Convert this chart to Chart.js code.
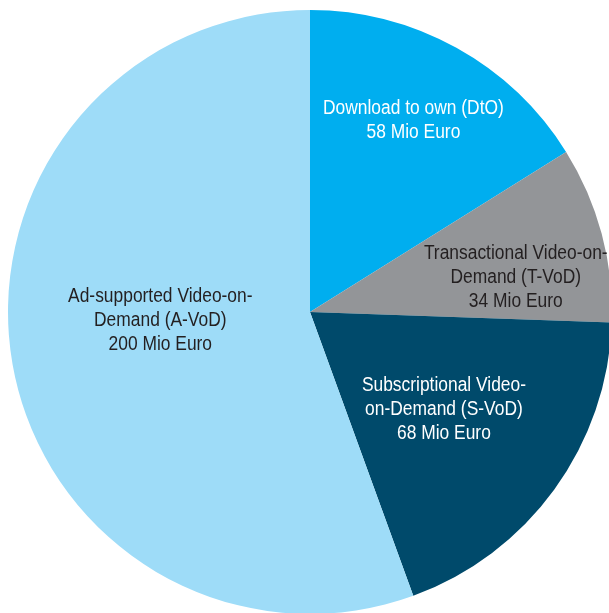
<!DOCTYPE html>
<html><head><meta charset="utf-8">
<script src="https://cdn.jsdelivr.net/npm/chart.js@4/dist/chart.umd.min.js"></script>
<style>
html,body{margin:0;padding:0;background:#fff;overflow:hidden;}
#wrap{position:absolute;left:0;top:0;width:620px;height:620px;}
</style></head><body>
<div id="wrap"><canvas id="c"></canvas></div>
<script>
const categories = [
  ["Download to own (DtO)"],
  ["Transactional Video-on-", "Demand (T-VoD)"],
  ["Subscriptional Video-", "on-Demand (S-VoD)"],
  ["Ad-supported Video-on-", "Demand (A-VoD)"]
];
const values = [58, 34, 68, 200];
const unitLabel = "Mio Euro";
const colors = ["#00aeef", "#939598", "#004a6b", "#9edcf8"];
const textColors = ["#ffffff", "#231f20", "#ffffff", "#231f20"];

const labelPlugin = {
  id: 'sliceLabels',
  afterDatasetsDraw(chart, args, opts) {
    const ctx = chart.ctx;
    const meta = chart.getDatasetMeta(0);
    const sx = opts.condense;
    meta.data.forEach((arc, i) => {
      const p = arc.getProps(['x','y','startAngle','endAngle','outerRadius'], true);
      const mid = (p.startAngle + p.endAngle) / 2;
      const r = p.outerRadius * opts.radius[i];
      const cx = p.x + Math.cos(mid) * r + opts.dx[i];
      const cy = p.y + Math.sin(mid) * r + opts.dy[i];
      const lines = categories[i].concat([values[i] + " " + unitLabel]);
      const lh = 24;
      ctx.save();
      ctx.font = '20px "Liberation Sans Narrow", "Liberation Sans", Arial, sans-serif';
      ctx.textAlign = 'center';
      ctx.textBaseline = 'middle';
      ctx.fillStyle = textColors[i];
      ctx.translate(cx, cy);
      ctx.scale(sx, 1);
      lines.forEach((t, k) => {
        ctx.fillText(t, 0, (k - (lines.length - 1) / 2) * lh);
      });
      ctx.restore();
    });
  }
};

new Chart(document.getElementById('c'), {
  type: 'pie',
  data: {
    labels: categories.map(c => c.join(' ')),
    datasets: [{ data: values, backgroundColor: colors, borderWidth: 0 }]
  },
  options: {
    responsive: true,
    maintainAspectRatio: false,
    animation: false,
    layout: { padding: { left: 8, top: 10, right: 8, bottom: 6 } },
    plugins: {
      legend: { display: false },
      tooltip: { enabled: false },
      sliceLabels: {
        condense: 0.87,
        radius: [0.72, 0.63, 0.54, 0.5],
        dx: [-2, 22, 2, -1],
        dy: [-1, 15, 2, -18]
      }
    }
  },
  plugins: [labelPlugin]
});
</script>
</body></html>
